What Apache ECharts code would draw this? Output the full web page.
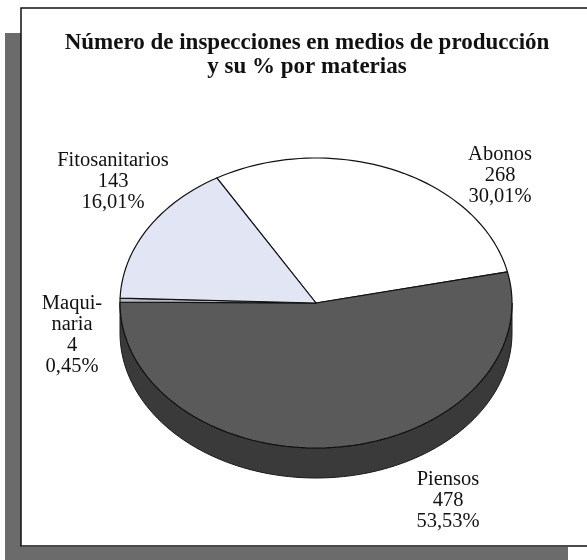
<!DOCTYPE html>
<html lang="es">
<head>
    <meta charset="UTF-8">
    <title>Inspecciones en medios de producción</title>
    <script src="https://cdn.jsdelivr.net/npm/echarts@6/dist/echarts.min.js"></script>
    <style>
        html, body { margin: 0; padding: 0; background: #fff; }
        #main { width: 587px; height: 560px; }
    </style>
</head>
<body>
<div id="main"></div>
<script type="text/javascript">
    // datos
    var categories = ['Abonos', 'Piensos', 'Maquinaria', 'Fitosanitarios'];
    var labelNames = ['Abonos', 'Piensos', 'Maqui-\nnaria', 'Fitosanitarios'];
    var counts = [268, 478, 4, 143];

    // colores de la cara superior y del canto
    var topColors = ['#ffffff', '#5a5a5a', '#b4b8c4', '#e2e5f3'];
    var sideColors = ['#d8d8d8', '#3a3a3a', '#7c808a', '#a9acba'];

    // geometría de la tarta (elipse) y posición de las etiquetas respecto al centro
    var pie = { cx: 316, cy: 303, rx: 196, ry: 145, depth: 30, start: 120.4 };
    var labelOffset = [[184, -127], [132, 198], [-244, 32], [-203, -121]];

    var total = 0;
    for (var i = 0; i < counts.length; i++) total += counts[i];

    function pct(v) {
        return (v / total * 100).toFixed(2).replace('.', ',') + '%';
    }

    function pt(deg, dy) {
        var r = deg * Math.PI / 180;
        return [pie.cx + pie.rx * Math.cos(r), pie.cy - pie.ry * Math.sin(r) + (dy || 0)];
    }

    function arc(from, to, dy) {
        var pts = [];
        var n = Math.max(2, Math.ceil(Math.abs(to - from) / 2));
        for (var k = 0; k <= n; k++) {
            pts.push(pt(from + (to - from) * k / n, dy));
        }
        return pts;
    }

    function renderItem(params, api) {
        var idx = params.dataIndex;
        var before = 0;
        for (var j = 0; j < idx; j++) before += counts[j];
        var v = api.value(0);
        var a0 = pie.start - before / total * 360;
        var a1 = pie.start - (before + v) / total * 360;
        var children = [];

        // canto visible (mitad inferior de la elipse)
        var lo = Math.max(a1, -180), hi = Math.min(a0, 0);
        if (hi > lo) {
            var upper = arc(lo, hi, 0);
            var lower = arc(hi, lo, pie.depth);
            children.push({
                type: 'polygon',
                z2: 1,
                shape: { points: upper.concat(lower) },
                style: { fill: sideColors[idx], stroke: '#1a1a1a', lineWidth: 1 }
            });
        }

        // cara superior
        var top = [[pie.cx, pie.cy]].concat(arc(a0, a1, 0));
        children.push({
            type: 'polygon',
            z2: 5,
            shape: { points: top },
            style: { fill: topColors[idx], stroke: '#111', lineWidth: 1.2, lineJoin: 'round' }
        });

        // etiqueta
        children.push({
            type: 'text',
            z2: 10,
            x: pie.cx + labelOffset[idx][0],
            y: pie.cy + labelOffset[idx][1],
            style: {
                text: labelNames[idx] + '\n' + v + '\n' + pct(v),
                fill: '#111',
                font: '20.5px "Liberation Serif", "DejaVu Serif", serif',
                lineHeight: 21,
                align: 'center',
                verticalAlign: 'middle'
            }
        });

        return { type: 'group', children: children };
    }

    var myChart = echarts.init(document.getElementById('main'), null, { renderer: 'canvas' });
    var option = {
        animation: false,
        graphic: [
            // sombra del recuadro
            { type: 'rect', shape: { x: 5, y: 33, width: 16, height: 530 }, style: { fill: '#6b6b6b' }, z: 0 },
            { type: 'rect', shape: { x: 5, y: 547, width: 563, height: 16 }, style: { fill: '#6b6b6b' }, z: 0 },
            // recuadro
            { type: 'rect', shape: { x: 21, y: 8, width: 600, height: 538 }, style: { fill: '#fff', stroke: '#111', lineWidth: 1.5 }, z: 1 },
            {
                type: 'text', z: 2, x: 307, y: 55,
                style: {
                    text: 'Número de inspecciones en medios de producción\ny su % por materias',
                    font: 'bold 23px "Liberation Serif", "DejaVu Serif", serif',
                    lineHeight: 24,
                    fill: '#111',
                    align: 'center',
                    verticalAlign: 'middle'
                }
            }
        ],
        series: [{
            type: 'custom',
            coordinateSystem: 'none',
            z: 5,
            renderItem: renderItem,
            data: counts.map(function (c, i) { return { name: categories[i], value: [c] }; })
        }]
    };
    myChart.setOption(option);
</script>
</body>
</html>
